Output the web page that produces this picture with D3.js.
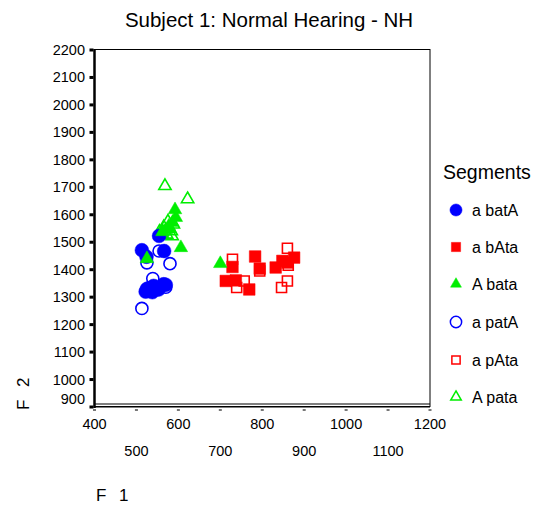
<!DOCTYPE html>
<html>
<head>
<meta charset="utf-8">
<script src="https://cdn.jsdelivr.net/npm/d3@7"></script>
<style>
  body { margin: 0; background: #fff; }
  text { font-family: "Liberation Sans", Arial, sans-serif; fill: #000; }
</style>
</head>
<body>
<div id="chart"></div>
<script>
// values: [F1, F2]
var aBatA = [[513, 1471], [524, 1447], [554, 1523], [566, 1468], [525, 1330], [541, 1341],
             [565, 1347], [553, 1328], [522, 1320], [538, 1318], [570, 1345], [530, 1333]];
var aBAta = [[729, 1410], [783, 1448], [794, 1404], [713, 1359], [737, 1361], [769, 1328],
             [832, 1408], [848, 1432], [876, 1444], [860, 1426]];
var ABata = [[592, 1618], [594, 1590], [606, 1480], [525, 1440], [700, 1422], [586, 1572],
             [577, 1558], [570, 1545], [580, 1548], [562, 1538]];
var aPatA = [[554, 1468], [580, 1422], [539, 1368], [513, 1259], [525, 1425], [570, 1336]];
var aPAta = [[729, 1438], [860, 1478], [862, 1416], [860, 1359], [846, 1335], [739, 1335],
             [757, 1359], [794, 1395]];
var APata = [[568, 1705], [622, 1657], [575, 1575], [588, 1565], [565, 1555], [583, 1540],
             [555, 1538], [572, 1528], [585, 1522], [560, 1530]];

var segmentNames = ["a batA", "a bAta", "A bata", "a patA", "a pAta", "A pata"];
var xTicks = [400, 500, 600, 700, 800, 900, 1000, 1100, 1200];
var yTicks = [900, 1000, 1100, 1200, 1300, 1400, 1500, 1600, 1700, 1800, 1900, 2000, 2100, 2200];

var width = 546, height = 506;
var svg = d3.select("#chart").append("svg")
    .attr("width", width)
    .attr("height", height);

var x = d3.scaleLinear().domain([400, 1200]).range([94.5, 430]);
var y = d3.scaleLinear().domain([900, 2200]).range([407, 50]);

// style per segment, same order as segmentNames
var styles = [
    { data: aBatA, shape: d3.symbolCircle, color: "#0000ff", filled: true, size: 150, legSize: 115 },
    { data: aBAta, shape: d3.symbolSquare, color: "#ff0000", filled: true, size: 135, legSize: 85 },
    { data: ABata, shape: d3.symbolTriangle, color: "#00ee00", filled: true, size: 80, legSize: 52 },
    { data: aPatA, shape: d3.symbolCircle, color: "#0000ff", filled: false, size: 115, legSize: 100 },
    { data: aPAta, shape: d3.symbolSquare, color: "#ff0000", filled: false, size: 100, legSize: 68 },
    { data: APata, shape: d3.symbolTriangle, color: "#00ee00", filled: false, size: 66, legSize: 48 }
];

// title
svg.append("text")
    .attr("x", 269).attr("y", 27)
    .attr("text-anchor", "middle")
    .style("font-size", "20.5px")
    .text("Subject 1: Normal Hearing - NH");

// frame
svg.append("rect")
    .attr("x", x(400)).attr("y", y(2200) - 0.5)
    .attr("width", x(1200) - x(400)).attr("height", y(900) - y(2200))
    .attr("fill", "none").attr("stroke", "#000").attr("stroke-width", 1);
svg.append("line")
    .attr("x1", x(400)).attr("x2", x(400))
    .attr("y1", y(2200) - 1).attr("y2", y(900) + 1)
    .attr("stroke", "#000").attr("stroke-width", 2.5);
// double line along the bottom
[y(900) - 3, y(900)].forEach(function (yy) {
    svg.append("line")
        .attr("x1", x(400)).attr("x2", x(1200))
        .attr("y1", yy).attr("y2", yy)
        .attr("stroke", "#000").attr("stroke-width", 1.2);
});

// y ticks
svg.selectAll(".ytick")
    .data(yTicks).enter()
    .append("rect")
    .attr("x", x(400) - 5).attr("y", d => y(d) - 1.5)
    .attr("width", 4).attr("height", 3)
    .attr("fill", "#000");
svg.selectAll(".ylab")
    .data(yTicks).enter()
    .append("text")
    .attr("x", 85)
    .attr("y", d => d == 900 ? y(d) - 3 : y(d) + 5)
    .attr("text-anchor", "end")
    .style("font-size", "14.5px")
    .text(d => d);

// x ticks, labels staggered on two rows
svg.selectAll(".xtick")
    .data(xTicks).enter()
    .append("rect")
    .attr("x", d => x(d) - 1.5).attr("y", y(900) + 2)
    .attr("width", 3).attr("height", 2)
    .attr("fill", "#777");
svg.selectAll(".xlab")
    .data(xTicks).enter()
    .append("text")
    .attr("x", d => x(d))
    .attr("y", (d, i) => i % 2 == 0 ? 429 : 456)
    .attr("text-anchor", "middle")
    .style("font-size", "14.5px")
    .text(d => d);

// axis titles
svg.append("text")
    .attr("x", 96).attr("y", 501)
    .style("font-size", "17px")
    .style("letter-spacing", "4px")
    .text("F 1");
svg.append("text")
    .attr("transform", "translate(29,410) rotate(-90)")
    .style("font-size", "17px")
    .style("letter-spacing", "4px")
    .text("F 2");

// points: open markers first, filled on top
var drawOrder = [3, 4, 5, 0, 1, 2];
drawOrder.forEach(function (k) {
    var s = styles[k];
    svg.append("g").selectAll("path")
        .data(s.data).enter()
        .append("path")
        .attr("transform", d => "translate(" + x(d[0]) + "," + y(d[1]) + ")")
        .attr("d", d3.symbol().type(s.shape).size(s.size))
        .attr("fill", s.filled ? s.color : "none")
        .attr("stroke", s.color)
        .attr("stroke-width", s.filled ? 0.5 : 1.6);
});

// legend
svg.append("text")
    .attr("x", 443).attr("y", 179)
    .style("font-size", "19.5px")
    .text("Segments");
var legY = [210, 247, 284, 322, 360, 397];
var leg = svg.selectAll(".leg")
    .data(segmentNames).enter()
    .append("g")
    .attr("transform", (d, i) => "translate(0," + legY[i] + ")");
leg.append("path")
    .attr("transform", "translate(456,0)")
    .attr("d", (d, i) => d3.symbol().type(styles[i].shape).size(styles[i].legSize)())
    .attr("fill", (d, i) => styles[i].filled ? styles[i].color : "none")
    .attr("stroke", (d, i) => styles[i].color)
    .attr("stroke-width", (d, i) => styles[i].filled ? 0.5 : 1.5);
leg.append("text")
    .attr("x", 472).attr("y", 5.5)
    .style("font-size", "16px")
    .text(d => d);
</script>
</body>
</html>
